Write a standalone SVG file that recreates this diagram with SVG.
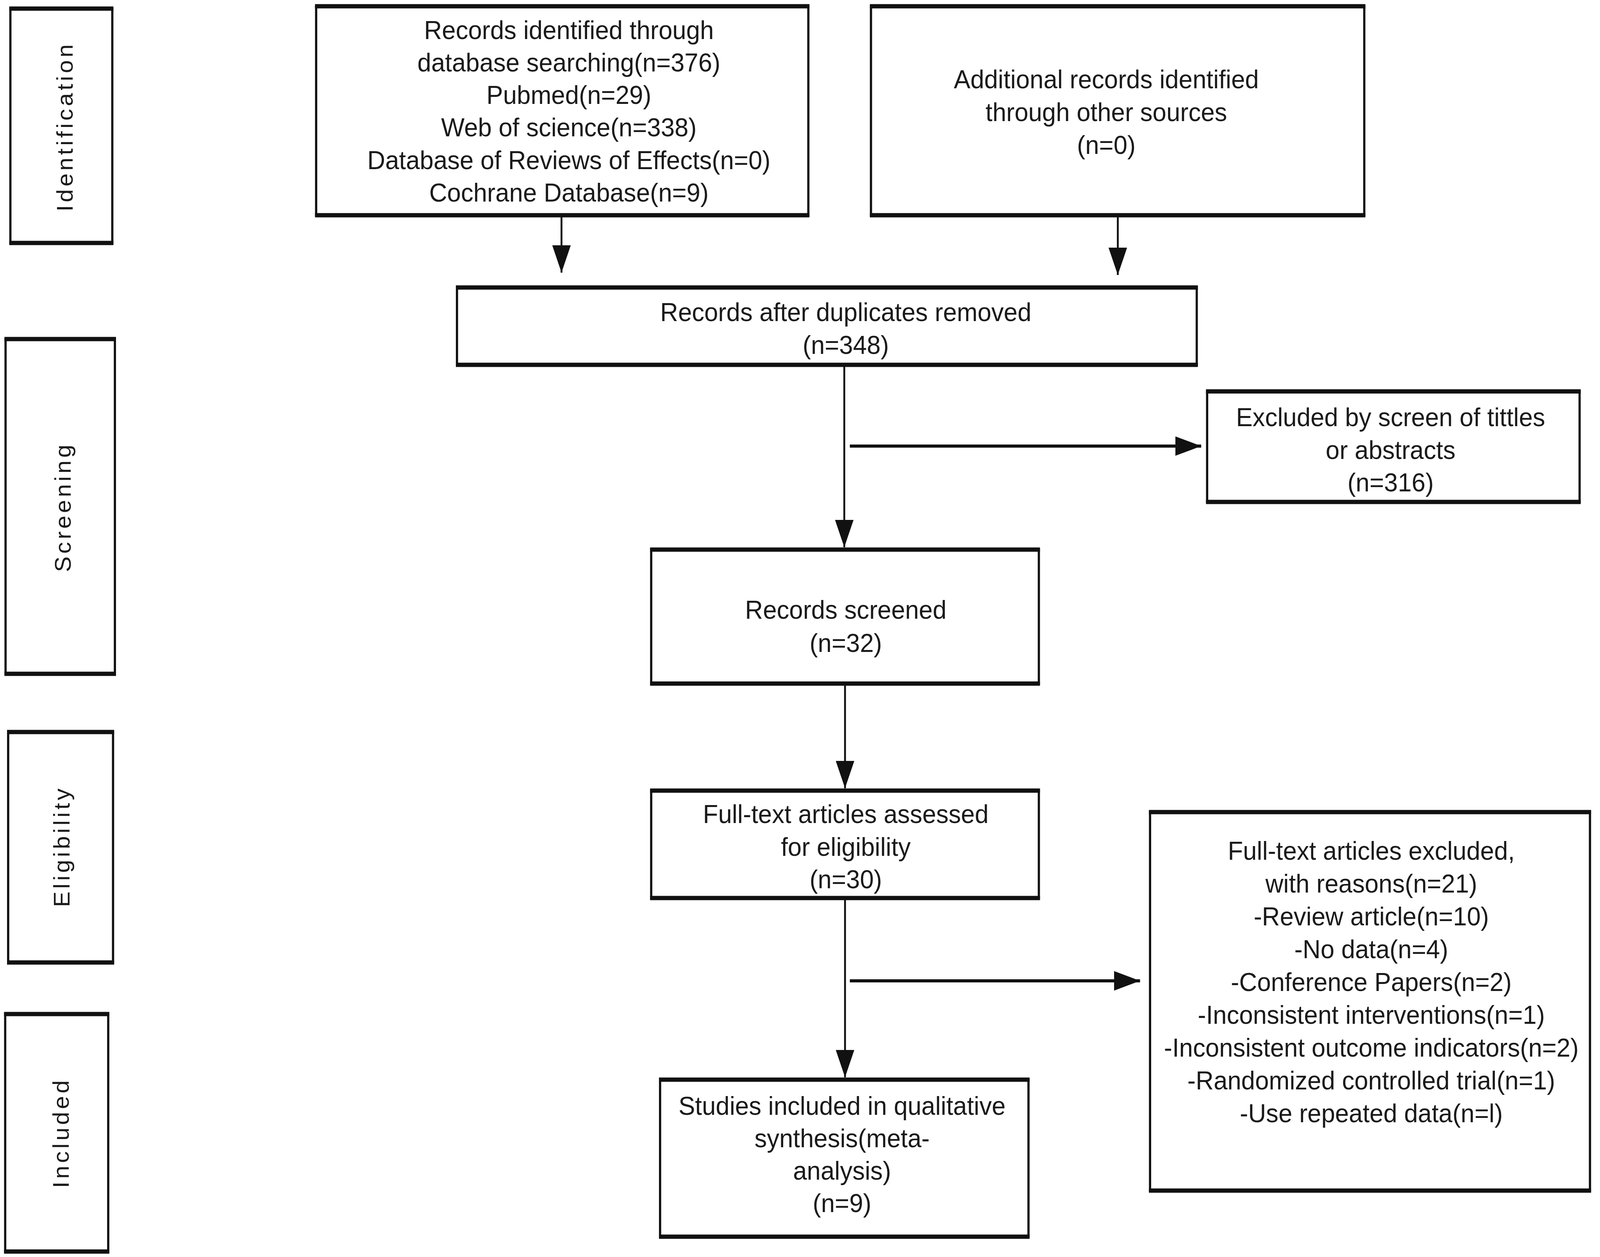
<svg xmlns="http://www.w3.org/2000/svg" width="4317" height="3218" viewBox="0 0 4317 3218">
<style>
.box{fill:#fff;stroke:#111;stroke-width:6}
.hz{stroke:#111;stroke-width:11;fill:none}
.t{font-family:"Liberation Sans",Arial,sans-serif;font-size:67px;fill:#1a1a1a;text-anchor:middle}
.side{font-family:"Liberation Sans",Arial,sans-serif;font-size:60px;letter-spacing:7px;fill:#1a1a1a;text-anchor:middle}
.v{stroke:#111;stroke-width:5;fill:none}
.h{stroke:#111;stroke-width:8;fill:none}
</style>
<defs>
<marker id="ah" viewBox="0 0 70 50" refX="70" refY="25" markerWidth="70" markerHeight="50" markerUnits="userSpaceOnUse" orient="auto">
<path d="M0,0 L70,25 L0,50 Z" fill="#111"/>
</marker>
</defs>
<rect width="4317" height="3218" fill="#fff"/>
<g id="diagram" transform="scale(0.9488,1)">

<g id="stage-identification">
<rect class="box" x="28" y="22" width="275" height="600"/>
<path class="hz" d="M25,22H306M25,622H306"/>
<text class="side" transform="translate(196,324) rotate(-90)">Identification</text>
</g>
<g id="stage-screening">
<rect class="box" x="15" y="868" width="295" height="857"/>
<path class="hz" d="M12,868H313M12,1725H313"/>
<text class="side" transform="translate(191,1298) rotate(-90)">Screening</text>
</g>
<g id="stage-eligibility">
<rect class="box" x="22" y="1874" width="283" height="590"/>
<path class="hz" d="M19,1874H308M19,2464H308"/>
<text class="side" transform="translate(188,2167) rotate(-90)">Eligibility</text>
</g>
<g id="stage-included">
<rect class="box" x="14" y="2596" width="278" height="608"/>
<path class="hz" d="M11,2596H295M11,3204H295"/>
<text class="side" transform="translate(186,2900) rotate(-90)">Included</text>
</g>

<g id="n-database">
<rect class="box" x="853" y="16" width="1328" height="535"/>
<path class="hz" d="M850,16H2184M850,551H2184"/>
<text class="t" x="1535" y="100">Records identified through</text>
<text class="t" x="1535" y="183">database searching(n=376)</text>
<text class="t" x="1535" y="266">Pubmed(n=29)</text>
<text class="t" x="1535" y="349">Web of science(n=338)</text>
<text class="t" x="1535" y="433">Database of Reviews of Effects(n=0)</text>
<text class="t" x="1535" y="516">Cochrane Database(n=9)</text>
</g>
<g id="n-other">
<rect class="box" x="2350" y="16" width="1331" height="535"/>
<path class="hz" d="M2347,16H3684M2347,551H3684"/>
<text class="t" x="2985" y="226">Additional records identified</text>
<text class="t" x="2985" y="310">through other sources</text>
<text class="t" x="2985" y="394">(n=0)</text>
</g>
<g id="n-dedup">
<rect class="box" x="1233" y="736" width="1996" height="198"/>
<path class="hz" d="M1230,736H3232M1230,934H3232"/>
<text class="t" x="2282" y="822">Records after duplicates removed</text>
<text class="t" x="2282" y="906">(n=348)</text>
</g>
<g id="n-excluded-screen">
<rect class="box" x="3257" y="1002" width="1005" height="283"/>
<path class="hz" d="M3254,1002H4265M3254,1285H4265"/>
<text class="t" x="3752" y="1091">Excluded by screen of tittles</text>
<text class="t" x="3752" y="1175">or abstracts</text>
<text class="t" x="3752" y="1258">(n=316)</text>
</g>
<g id="n-screened">
<rect class="box" x="1757" y="1407" width="1046" height="343"/>
<path class="hz" d="M1754,1407H2806M1754,1750H2806"/>
<text class="t" x="2282" y="1584">Records screened</text>
<text class="t" x="2282" y="1669">(n=32)</text>
</g>
<g id="n-fulltext">
<rect class="box" x="1757" y="2024" width="1046" height="275"/>
<path class="hz" d="M1754,2024H2806M1754,2299H2806"/>
<text class="t" x="2282" y="2107">Full-text articles assessed</text>
<text class="t" x="2282" y="2191">for eligibility</text>
<text class="t" x="2282" y="2274">(n=30)</text>
</g>
<g id="n-excluded-fulltext">
<rect class="box" x="3103" y="2079" width="1187" height="969"/>
<path class="hz" d="M3100,2079H4293M3100,3048H4293"/>
<text class="t" x="3700" y="2201">Full-text articles excluded,</text>
<text class="t" x="3700" y="2285">with reasons(n=21)</text>
<text class="t" x="3700" y="2369">-Review article(n=10)</text>
<text class="t" x="3700" y="2453">-No data(n=4)</text>
<text class="t" x="3700" y="2537">-Conference Papers(n=2)</text>
<text class="t" x="3700" y="2621">-Inconsistent interventions(n=1)</text>
<text class="t" x="3700" y="2705">-Inconsistent outcome indicators(n=2)</text>
<text class="t" x="3700" y="2789">-Randomized controlled trial(n=1)</text>
<text class="t" x="3700" y="2873">-Use repeated data(n=l)</text>
</g>
<g id="n-included">
<rect class="box" x="1781" y="2764" width="994" height="402"/>
<path class="hz" d="M1778,2764H2778M1778,3166H2778"/>
<text class="t" x="2272" y="2854">Studies included in qualitative</text>
<text class="t" x="2272" y="2937">synthesis(meta-</text>
<text class="t" x="2272" y="3020">analysis)</text>
<text class="t" x="2272" y="3103">(n=9)</text>
</g>

<g id="connectors">
<line class="v" x1="1515" y1="556" x2="1515" y2="698" marker-end="url(#ah)"/>
<line class="v" x1="3016" y1="556" x2="3016" y2="704" marker-end="url(#ah)"/>
<line class="v" x1="2278" y1="939" x2="2278" y2="1401" marker-end="url(#ah)"/>
<line class="h" x1="2293" y1="1142" x2="3241" y2="1142" marker-end="url(#ah)"/>
<line class="v" x1="2280" y1="1755" x2="2280" y2="2018" marker-end="url(#ah)"/>
<line class="v" x1="2280" y1="2304" x2="2280" y2="2758" marker-end="url(#ah)"/>
<line class="h" x1="2293" y1="2511" x2="3076" y2="2511" marker-end="url(#ah)"/>
</g>
</g>
</svg>
